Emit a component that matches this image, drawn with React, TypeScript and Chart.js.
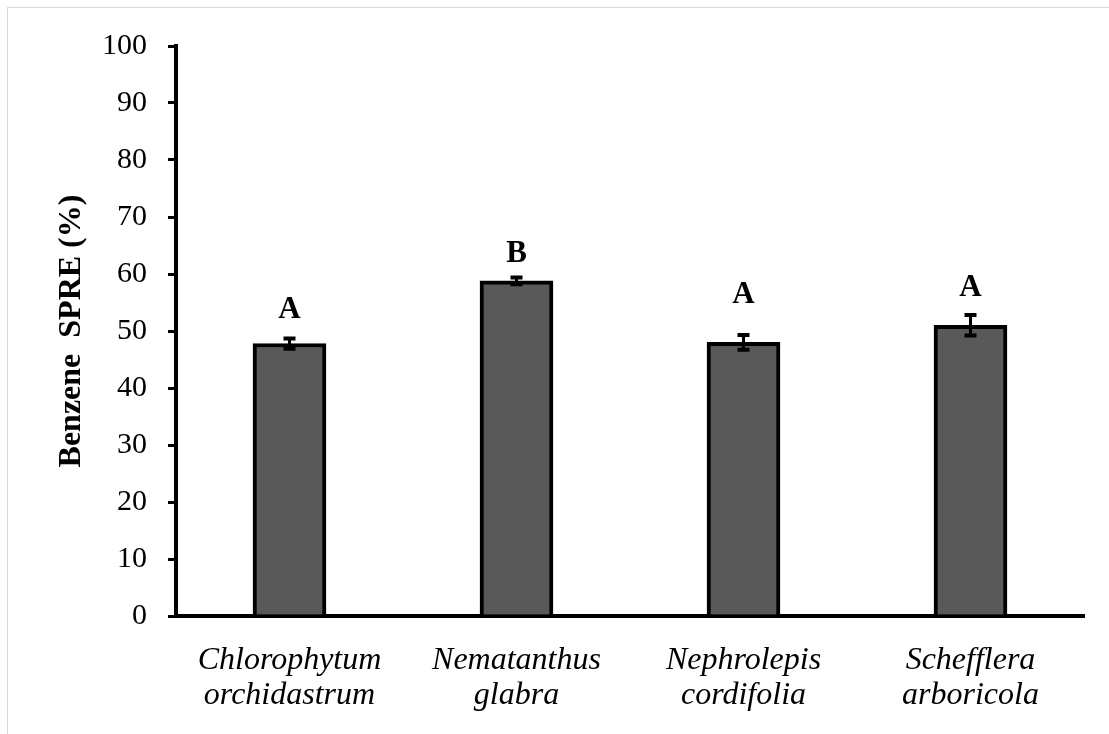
import React, { useEffect, useRef } from "react";
import { Chart, registerables } from "chart.js";

Chart.register(...registerables);

const categories: string[][] = [
  ["Chlorophytum", "orchidastrum"],
  ["Nematanthus", "glabra"],
  ["Nephrolepis", "cordifolia"],
  ["Schefflera", "arboricola"],
];
const values = [47.8, 58.8, 48.0, 51.0];
const errors = [0.9, 0.6, 1.3, 1.8];
const letters = ["A", "B", "A", "A"];
const letterLevels = [52.3, 62.1, 54.9, 56.1];
const yTicks = [0, 10, 20, 30, 40, 50, 60, 70, 80, 90, 100];
const yTitle = "Benzene  SPRE (%)";

const SERIF = "'Liberation Serif', 'Times New Roman', serif";

const overlayPlugin = {
  id: "overlay",
  afterDatasetsDraw(chart: any) {
    const ctx = chart.ctx;
    const meta = chart.getDatasetMeta(0);
    const y = chart.scales.y;
    ctx.save();
    meta.data.forEach((bar: any, i: number) => {
      const x = bar.x;
      const top = y.getPixelForValue(values[i] + errors[i]);
      const bot = y.getPixelForValue(values[i] - errors[i]);
      ctx.strokeStyle = "#000";
      ctx.lineWidth = 3;
      ctx.beginPath();
      ctx.moveTo(x, top);
      ctx.lineTo(x, bot);
      ctx.stroke();
      ctx.lineWidth = 4;
      ctx.beginPath();
      ctx.moveTo(x - 6, top);
      ctx.lineTo(x + 6, top);
      ctx.moveTo(x - 6, bot);
      ctx.lineTo(x + 6, bot);
      ctx.stroke();
      ctx.fillStyle = "#000";
      ctx.font = `bold 31px ${SERIF}`;
      ctx.textAlign = "center";
      ctx.textBaseline = "alphabetic";
      ctx.fillText(letters[i], x, y.getPixelForValue(letterLevels[i]));
    });
    // y-axis title
    const ca = chart.chartArea;
    ctx.translate(72, (ca.top + ca.bottom) / 2);
    ctx.rotate(-Math.PI / 2);
    ctx.font = `bold 32px ${SERIF}`;
    ctx.textAlign = "center";
    ctx.textBaseline = "middle";
    ctx.fillText(yTitle, 0, 0);
    ctx.restore();
  },
};

export default function App() {
  const ref = useRef<HTMLCanvasElement | null>(null);
  useEffect(() => {
    if (!ref.current) return;
    const chart = new Chart(ref.current, {
      type: "bar",
      data: {
        labels: categories,
        datasets: [
          {
            data: values,
            backgroundColor: "#595959",
            borderColor: "#000",
            borderWidth: 4,
            barThickness: 73,
          },
        ],
      },
      options: {
        animation: false,
        responsive: false,
        devicePixelRatio: 1,
        layout: { padding: { top: 46, right: 25, bottom: 0, left: 0 } },
        plugins: { legend: { display: false }, tooltip: { enabled: false } },
        scales: {
          x: {
            grid: { display: false },
            border: { display: true, color: "#000", width: 4 },
            ticks: {
              color: "#000",
              padding: 19,
              font: { family: SERIF, size: 32, style: "italic", lineHeight: 1.1 },
              maxRotation: 0,
              autoSkip: false,
            },
            afterFit(scale: any) {
              scale.height = 118;
            },
          },
          y: {
            min: 0,
            max: 100,
            afterBuildTicks(scale: any) {
              scale.ticks = yTicks.map((v) => ({ value: v }));
            },
            grid: {
              display: true,
              drawOnChartArea: false,
              drawTicks: true,
              tickLength: 8,
              color: "#000",
              lineWidth: 3,
            },
            border: { display: true, color: "#000", width: 4 },
            ticks: {
              color: "#000",
              padding: 21,
              font: { family: SERIF, size: 30 },
            },
            afterFit(scale: any) {
              scale.width = 176;
            },
          },
        },
      },
      plugins: [overlayPlugin],
    } as any);
    return () => chart.destroy();
  }, []);

  return (
    <>
      <div
        style={{
          position: "absolute",
          left: 7,
          top: 7,
          width: 1102,
          height: 727,
          borderTop: "1px solid #d9d9d9",
          borderLeft: "1px solid #d9d9d9",
          boxSizing: "border-box",
          pointerEvents: "none",
        }}
      />
      <div style={{ position: "absolute", left: 0, top: 0, width: 1109, height: 734 }}>
        <canvas ref={ref} width={1109} height={734} style={{ display: "block" }} />
      </div>
    </>
  );
}
